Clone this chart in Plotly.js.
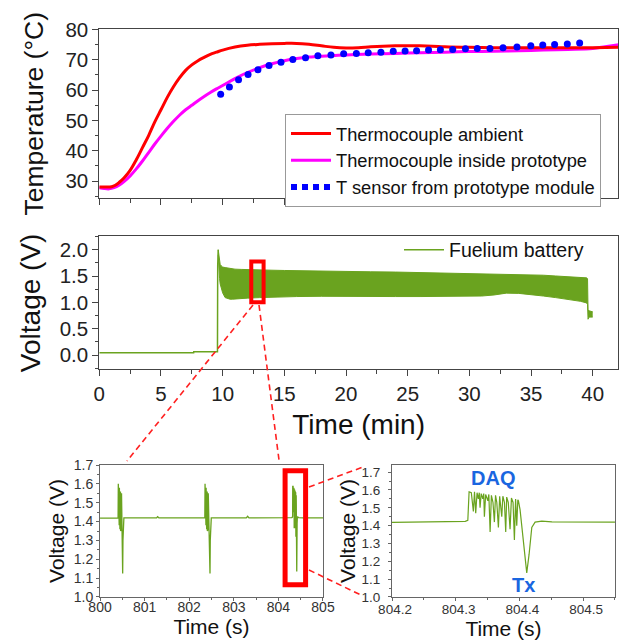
<!DOCTYPE html>
<html>
<head>
<meta charset="utf-8">
<script src="https://cdn.plot.ly/plotly-3.0.1.min.js"></script>
<style>html,body{margin:0;padding:0;background:#fff;}#chart{width:619px;height:640px;}</style>
</head>
<body>
<div id="chart"></div>
<script>
// ---- Top panel: temperatures (min, °C)
const ambientTime = [0, 0.5, 1.0, 1.3, 1.6, 2.0, 2.5, 3.0, 3.5, 4.0, 4.5, 5.0, 5.5, 6.0, 6.5, 7.0, 7.5, 8.0, 8.5, 9.0, 9.5, 10, 11, 12, 13, 14, 15, 16, 17, 18, 19, 20, 21, 22, 23, 24, 25, 26, 27, 28, 30, 32, 34, 36, 38, 40, 42.1];
const ambientTemp = [28, 28, 28.1, 28.6, 29.5, 31, 33.5, 37, 41, 45, 49.5, 53.5, 57.5, 61, 64, 66.5, 68.3, 69.7, 70.8, 71.8, 72.5, 73.2, 74.2, 74.8, 75.1, 75.3, 75.4, 75.4, 75.1, 74.6, 74.1, 73.9, 74.0, 74.3, 74.5, 74.6, 74.6, 74.6, 74.5, 74.3, 74.1, 74.0, 74.0, 74.0, 74.0, 74.0, 74.1];
const insideTime = [0, 0.4, 0.8, 1.2, 1.6, 2.0, 2.5, 3.0, 3.5, 4.0, 4.5, 5.0, 5.5, 6.0, 6.5, 7.0, 7.5, 8.0, 8.5, 9.0, 9.5, 10, 11, 12, 13, 14, 15, 16, 17, 18, 20, 22, 24, 26, 28, 30, 32, 34, 36, 38, 40, 41, 42.1];
const insideTemp = [27.8, 27.5, 27.4, 27.8, 28.6, 29.8, 31.7, 34, 36.6, 39.4, 42.2, 44.8, 47.3, 49.6, 51.7, 53.5, 55.0, 56.5, 57.9, 59.2, 60.4, 61.5, 63.8, 65.8, 67.4, 68.7, 69.7, 70.4, 70.9, 71.2, 71.6, 71.9, 72.1, 72.3, 72.5, 72.7, 72.8, 73.0, 73.2, 73.4, 73.7, 74.3, 75.0];
const sensorTime = [9.84, 10.55, 11.29, 12.06, 12.86, 13.76, 14.73, 15.69, 16.72, 17.72, 18.78, 19.81, 20.84, 21.8, 22.83, 23.83, 24.79, 25.72, 26.69, 27.65, 28.65, 29.68, 30.64, 31.67, 32.73, 33.86, 34.98, 35.95, 36.91, 37.94, 38.94];
const sensorTemp = [58.6, 61.0, 63.4, 65.1, 66.7, 68.1, 69.2, 70.1, 70.7, 71.3, 71.6, 72.0, 72.1, 72.3, 72.5, 72.8, 72.9, 73.0, 73.2, 73.3, 73.4, 73.6, 73.7, 73.7, 74.0, 74.2, 74.6, 74.9, 75.0, 75.2, 75.5];

// ---- Middle panel: battery voltage (min, V)
const baseTime = [0, 7.65, 7.66, 9.58, 9.60, 9.64];
const baseVolt = [0.045, 0.045, 0.065, 0.065, 1.70, 2.00];
const bandTime  = [9.64, 9.70, 9.75, 9.80, 9.90, 10.0, 10.2, 10.4, 10.6, 10.8, 11.0, 11.5, 12, 13, 14, 15, 16, 18, 20, 22, 24, 26, 28, 30, 31, 32, 33, 34, 35, 36, 37, 38, 39, 39.5, 39.58, 39.62, 39.7, 40.0];
const bandUpper = [2.00, 1.85, 1.76, 1.72, 1.69, 1.67, 1.66, 1.65, 1.64, 1.635, 1.63, 1.625, 1.62, 1.615, 1.61, 1.605, 1.60, 1.595, 1.59, 1.58, 1.575, 1.565, 1.56, 1.55, 1.545, 1.545, 1.54, 1.535, 1.525, 1.515, 1.50, 1.49, 1.475, 1.465, 1.45, 0.85, 0.84, 0.82];
const bandLower = [1.90, 1.55, 1.45, 1.35, 1.25, 1.18, 1.09, 1.07, 1.06, 1.06, 1.065, 1.07, 1.08, 1.09, 1.10, 1.11, 1.11, 1.115, 1.11, 1.11, 1.11, 1.11, 1.11, 1.11, 1.12, 1.14, 1.175, 1.17, 1.15, 1.12, 1.09, 1.06, 1.02, 0.99, 0.96, 0.68, 0.72, 0.72];

// ---- Bottom-left panel: 800-805 s overview (s, V)
const overviewTime = [800.000, 800.200, 800.380, 800.405, 800.410, 800.414, 800.418, 800.422, 800.426, 800.430, 800.434, 800.438, 800.442, 800.446, 800.450, 800.454, 800.458, 800.462, 800.466, 800.470, 800.474, 800.478, 800.482, 800.488, 800.496, 800.503, 800.508, 800.514, 800.520, 800.535, 800.700, 801.270, 801.290, 801.320, 802.000, 802.300, 802.350, 802.355, 802.359, 802.363, 802.367, 802.371, 802.375, 802.379, 802.383, 802.387, 802.391, 802.395, 802.399, 802.403, 802.407, 802.411, 802.415, 802.419, 802.423, 802.427, 802.433, 802.445, 802.458, 802.466, 802.472, 802.480, 802.495, 803.280, 803.310, 803.340, 804.100];
const overviewVolt = [1.418, 1.418, 1.416, 1.42, 1.60, 1.45, 1.59, 1.40, 1.58, 1.38, 1.58, 1.42, 1.57, 1.36, 1.57, 1.40, 1.56, 1.35, 1.56, 1.38, 1.55, 1.36, 1.55, 1.45, 1.30, 1.15, 1.125, 1.30, 1.40, 1.42, 1.42, 1.42, 1.426, 1.42, 1.42, 1.418, 1.42, 1.60, 1.46, 1.59, 1.41, 1.58, 1.38, 1.58, 1.43, 1.57, 1.36, 1.57, 1.40, 1.56, 1.35, 1.56, 1.38, 1.55, 1.36, 1.55, 1.45, 1.30, 1.15, 1.125, 1.30, 1.40, 1.42, 1.42, 1.428, 1.42, 1.42];
const tailTime = [804.800, 805.000];
const tailVolt = [1.42, 1.42];

// ---- Bottom-right panel: 804.2-804.55 s detail (s, V)
const detailTime = [804.200, 804.260, 804.300, 804.315, 804.319, 804.321, 804.3245, 804.3277, 804.3295, 804.3314, 804.3335, 804.3355, 804.337, 804.3382, 804.340, 804.3425, 804.344, 804.345, 804.347, 804.3505, 804.352, 804.354, 804.356, 804.3585, 804.3607, 804.3625, 804.3645, 804.367, 804.369, 804.3723, 804.374, 804.3765, 804.3785, 804.380, 804.3825, 804.3853, 804.3875, 804.390, 804.3921, 804.394, 804.3958, 804.3975, 804.3984, 804.401, 804.4063, 804.4105, 804.4115, 804.4152, 804.4194, 804.4246, 804.4351, 804.451, 804.500, 804.550];
const detailVolt = [1.418, 1.420, 1.421, 1.424, 1.43, 1.59, 1.585, 1.48, 1.59, 1.47, 1.585, 1.55, 1.585, 1.50, 1.58, 1.55, 1.58, 1.45, 1.575, 1.54, 1.575, 1.365, 1.57, 1.53, 1.42, 1.57, 1.53, 1.39, 1.565, 1.45, 1.565, 1.53, 1.365, 1.56, 1.53, 1.38, 1.555, 1.53, 1.32, 1.55, 1.40, 1.545, 1.54, 1.49, 1.30, 1.15, 1.135, 1.24, 1.39, 1.42, 1.425, 1.421, 1.42, 1.42];

// ---- Labels
const legendNames = ['Thermocouple ambient', 'Thermocouple inside prototype', 'T sensor from prototype module', 'Fuelium battery'];

const GREEN = '#6aa31f';
const FONT = 'Liberation Sans, Arial, sans-serif';

const leftTime = overviewTime.concat(detailTime, tailTime);
const leftVolt = overviewVolt.concat(detailVolt, tailVolt);

const traces = [
  {x: insideTime, y: insideTemp, xaxis: 'x', yaxis: 'y', mode: 'lines', name: legendNames[1], legendrank: 2,
   line: {color: '#ff00ff', width: 3, shape: 'spline'}},
  {x: ambientTime, y: ambientTemp, xaxis: 'x', yaxis: 'y', mode: 'lines', name: legendNames[0], legendrank: 1,
   line: {color: '#ff0000', width: 3, shape: 'spline'}},
  {x: sensorTime, y: sensorTemp, xaxis: 'x', yaxis: 'y', mode: 'markers', showlegend: false,
   marker: {color: '#0000ff', size: 7}},
  {x: [null], y: [null], xaxis: 'x', yaxis: 'y', mode: 'lines', name: legendNames[2], legendrank: 3,
   line: {color: '#0000ff', width: 6, dash: '6px,5px'}},
  {x: baseTime, y: baseVolt, xaxis: 'x2', yaxis: 'y2', mode: 'lines', name: legendNames[3], legend: 'legend2',
   line: {color: GREEN, width: 1.5}},
  {x: bandTime, y: bandLower, xaxis: 'x2', yaxis: 'y2', mode: 'lines', showlegend: false,
   line: {color: GREEN, width: 1}},
  {x: bandTime, y: bandUpper, xaxis: 'x2', yaxis: 'y2', mode: 'lines', showlegend: false, fill: 'tonexty', fillcolor: GREEN,
   line: {color: GREEN, width: 1}},
  {x: leftTime, y: leftVolt, xaxis: 'x3', yaxis: 'y3', mode: 'lines', showlegend: false,
   line: {color: GREEN, width: 1.3}},
  {x: detailTime, y: detailVolt, xaxis: 'x4', yaxis: 'y4', mode: 'lines', showlegend: false,
   line: {color: GREEN, width: 1.2}}
];

function ax(extra) {
  return Object.assign({
    showline: true, linecolor: '#444', linewidth: 1, mirror: true,
    ticks: 'outside', ticklen: 6, tickwidth: 1, tickcolor: '#444',
    showgrid: false, zeroline: false,
    tickfont: {family: FONT, size: 20.5, color: '#222'}
  }, extra);
}
const bigTitle = (t, size, s) => ({text: t, font: {family: FONT, size: size, color: '#111'}, standoff: s});
const smallTitle = (t, s) => ({text: t, font: {family: FONT, size: 21, color: '#111'}, standoff: s});
const minorBig = d => ({dtick: d, ticklen: 3.5, ticks: 'outside', tickcolor: '#444'});
const minorSmall = d => ({dtick: d, ticklen: 2, ticks: 'outside', tickcolor: '#666'});
const smallTick = {family: FONT, size: 14, color: '#333'};

const P = (px, py) => ({x: px / 619, y: 1 - py / 640});
function dashed(a, b) {
  const p = P(a[0], a[1]), q = P(b[0], b[1]);
  return {type: 'line', xref: 'paper', yref: 'paper', x0: p.x, y0: p.y, x1: q.x, y1: q.y,
          line: {color: '#ff2020', width: 1.6, dash: '6px,4px'}};
}

const layout = {
  width: 619, height: 640,
  margin: {l: 0, r: 0, t: 0, b: 0},
  paper_bgcolor: '#fff', plot_bgcolor: '#fff',
  font: {family: FONT, color: '#111'},
  xaxis: ax({domain: [0.1604, 0.9984], range: [0, 42.05], anchor: 'y', tick0: 0, dtick: 5, showticklabels: false, minor: minorBig(2.5)}),
  yaxis: ax({domain: [0.6902, 0.9542], range: [24.3, 80.05], anchor: 'x', tick0: 0, dtick: 10, minor: minorBig(5),
             title: bigTitle('Temperature (°C)', 26.5, 14)}),
  xaxis2: ax({domain: [0.1604, 0.9984], range: [0, 42.05], anchor: 'y2', tick0: 0, dtick: 5, minor: minorBig(2.5),
              title: bigTitle('Time (min)', 28, 10)}),
  yaxis2: ax({domain: [0.423, 0.6305], range: [-0.27, 2.25], anchor: 'x2', tick0: 0, dtick: 0.5, tickformat: '.1f', minor: minorBig(0.25),
              title: bigTitle('Voltage (V)', 28, 10)}),
  xaxis3: ax({domain: [0.1616, 0.5218], range: [800, 805], anchor: 'y3', tick0: 800, dtick: 1, ticklen: 3, linecolor: '#666', tickcolor: '#666',
              ticklabelstandoff: -6, tickfont: smallTick, minor: minorSmall(0.5), title: smallTitle('Time (s)', 5)}),
  yaxis3: ax({domain: [0.0672, 0.2734], range: [1.0, 1.7], anchor: 'x3', tick0: 1, dtick: 0.1, tickformat: '.1f', ticklen: 3, linecolor: '#666', tickcolor: '#666',
              tickfont: smallTick, minor: minorSmall(0.05), title: smallTitle('Voltage (V)', 3)}),
  xaxis4: ax({domain: [0.6333, 0.9935], range: [804.2, 804.55], anchor: 'y4', tick0: 804.2, dtick: 0.1, tickformat: '.1f', ticklen: 3, linecolor: '#666', tickcolor: '#666',
              ticklabelstandoff: -3, ticklabelshift: 3, tickfont: {family: FONT, size: 13.5, color: '#333'}, minor: minorSmall(0.05), title: smallTitle('Time (s)', 2)}),
  yaxis4: ax({domain: [0.0672, 0.2734], range: [1.0, 1.74], anchor: 'x4', tick0: 1, dtick: 0.1, tickformat: '.1f', ticklen: 3, linecolor: '#666', tickcolor: '#666',
              ticklabelstandoff: 5, tickfont: {family: FONT, size: 13.5, color: '#333'}, minor: minorSmall(0.05), title: smallTitle('Voltage (V)', 0)}),
  legend: {x: 285 / 619, y: 1 - 114 / 640, xanchor: 'left', yanchor: 'top', bgcolor: '#fff', traceorder: 'normal',
           bordercolor: '#999', borderwidth: 1, font: {family: FONT, size: 18.3, color: '#111'}, tracegroupgap: 0, itemwidth: 40},
  legend2: {x: 399 / 619, y: 1 - 250 / 640, xanchor: 'left', yanchor: 'middle', bgcolor: 'rgba(0,0,0,0)', traceorder: 'normal',
            borderwidth: 0, font: {family: FONT, size: 19.5, color: '#111'}, itemwidth: 40},
  shapes: [
    {type: 'rect', xref: 'x2', yref: 'y2', x0: 12.32, x1: 13.32, y0: 1.0, y1: 1.775, line: {color: '#ff0000', width: 4}},
    {type: 'rect', xref: 'x3', yref: 'y3', x0: 804.15, x1: 804.61, y0: 1.065, y1: 1.669, line: {color: '#ff0000', width: 5}},
    dashed([253, 305], [127, 461]),
    dashed([259, 305], [279, 460]),
    dashed([309, 487], [363, 467]),
    dashed([309, 570], [363, 596])
  ],
  annotations: [
    {xref: 'x4', yref: 'y4', x: 804.359, y: 1.67, text: '<b>DAQ</b>', showarrow: false,
     font: {family: FONT, size: 20, color: '#1a66e0'}},
    {xref: 'x4', yref: 'y4', x: 804.407, y: 1.066, text: '<b>Tx</b>', showarrow: false,
     font: {family: FONT, size: 20, color: '#1a66e0'}}
  ]
};

Plotly.newPlot('chart', traces, layout, {displayModeBar: false, staticPlot: true});
</script>
</body>
</html>
